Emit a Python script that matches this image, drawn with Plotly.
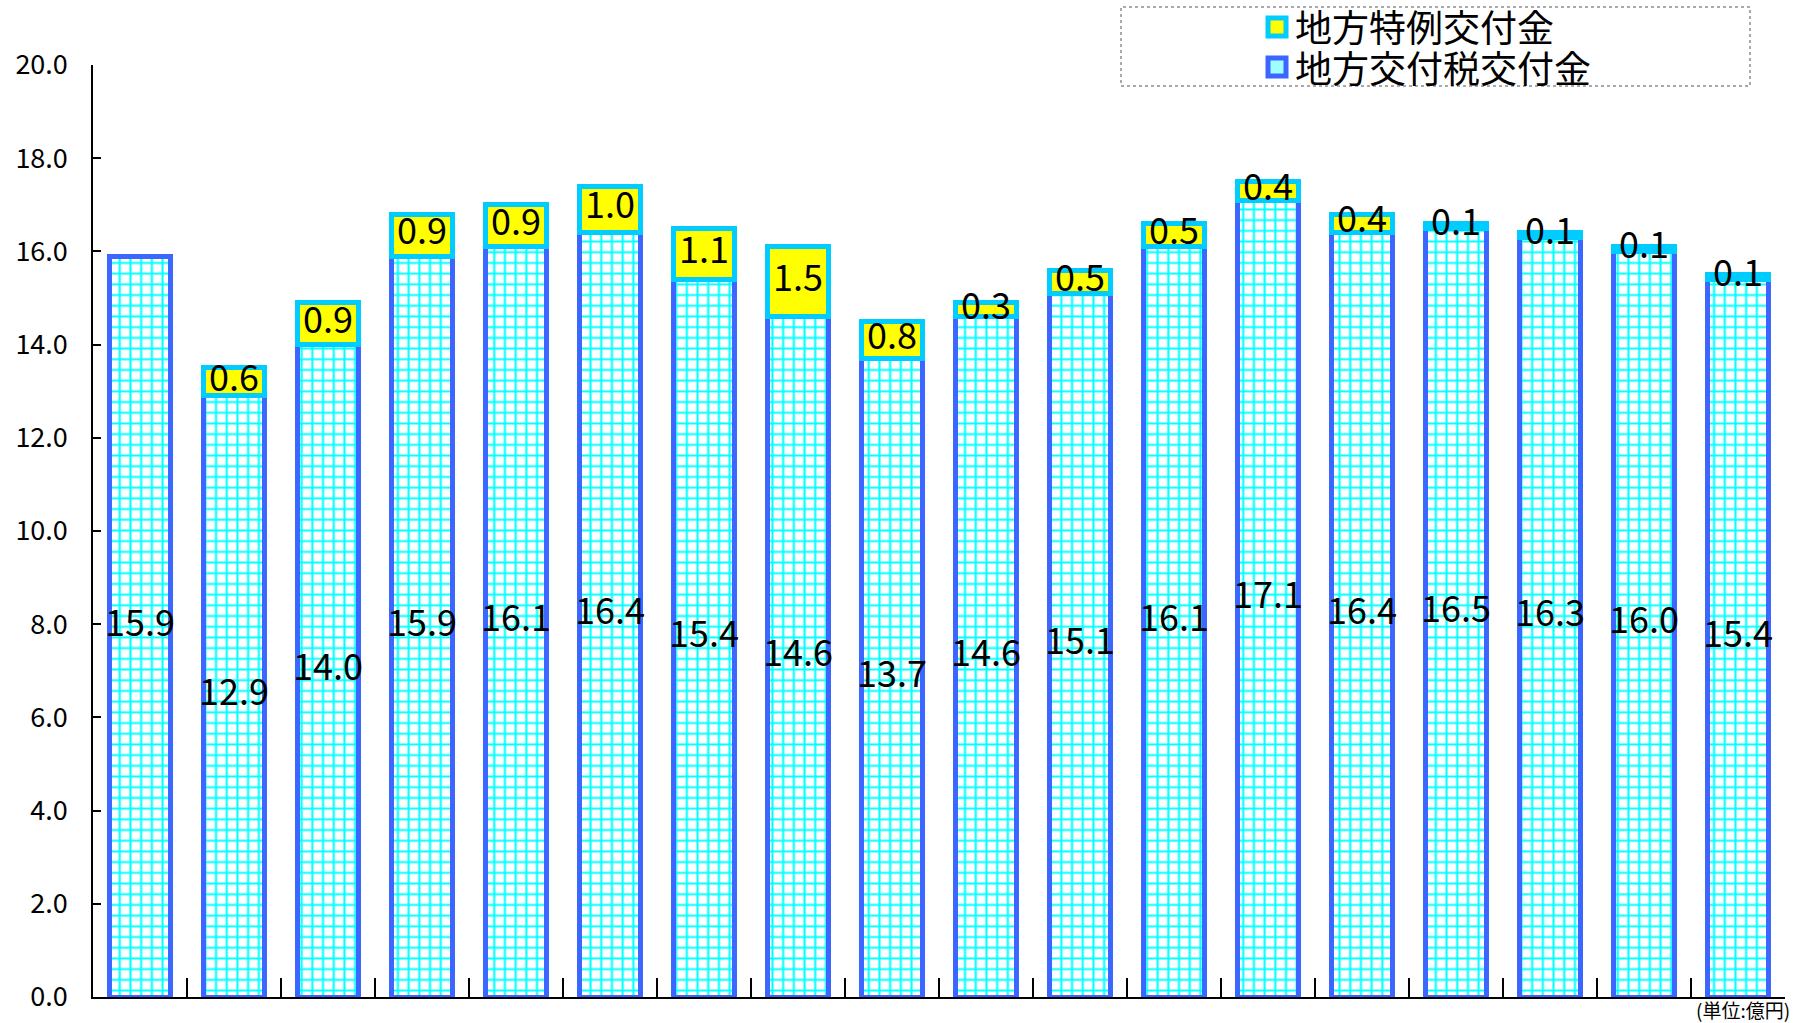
import plotly.graph_objects as go

categories = [str(i) for i in range(1, 19)]
kofuzei = [15.9, 12.9, 14.0, 15.9, 16.1, 16.4, 15.4, 14.6, 13.7, 14.6, 15.1, 16.1, 17.1, 16.4, 16.5, 16.3, 16.0, 15.4]
tokurei = [None, 0.6, 0.9, 0.9, 0.9, 1.0, 1.1, 1.5, 0.8, 0.3, 0.5, 0.5, 0.4, 0.4, 0.1, 0.1, 0.1, 0.1]
y_ticks = [0, 2, 4, 6, 8, 10, 12, 14, 16, 18, 20]
name_kofuzei = "地方交付税交付金"
name_tokurei = "地方特例交付金"
unit_label = "(単位:億円)"

FONT = "Noto Sans CJK JP"
W, H = 1793, 1023
ML, MR, MT, MB = 93, 8, 65, 26
PW, PH = W - ML - MR, H - MT - MB

BLUE = "#3B66FF"
CYAN = "#00FFFF"
CYAN_EDGE = "#00CCFF"
YELLOW = "#FFFF00"


def px_x(x):
    return (x - ML) / PW


def px_y(y):
    return (H - MB - y) / PH


fig = go.Figure()
fig.add_trace(go.Bar(
    x=categories, y=kofuzei, name=name_kofuzei, showlegend=False,
    marker=dict(color="white", line=dict(color=BLUE, width=5),
                pattern=dict(shape="+", fgcolor=CYAN, bgcolor="white",
                             size=10.7, solidity=0.35, fillmode="replace")),
    hoverinfo="skip",
))
fig.add_trace(go.Bar(
    x=categories, y=tokurei, name=name_tokurei, showlegend=False,
    marker=dict(color=YELLOW, line=dict(color=CYAN_EDGE, width=5)),
    hoverinfo="skip",
))
fig.add_trace(go.Scatter(
    x=categories, y=[v / 2 for v in kofuzei], mode="text",
    text=[f"{v:.1f}" for v in kofuzei], textposition="middle center",
    textfont=dict(family=FONT, size=36, color="black"),
    showlegend=False, hoverinfo="skip",
))
tk_x = [c for c, t in zip(categories, tokurei) if t is not None]
tk_y = [b + t / 2 for b, t in zip(kofuzei, tokurei) if t is not None]
tk_t = [f"{t:.1f}" for t in tokurei if t is not None]
fig.add_trace(go.Scatter(
    x=tk_x, y=tk_y, mode="text", text=tk_t, textposition="middle center",
    textfont=dict(family=FONT, size=36, color="black"),
    showlegend=False, hoverinfo="skip",
))

# custom legend (box, swatches, labels)
shapes = [
    dict(type="rect", xref="paper", yref="paper",
         x0=px_x(1121), x1=px_x(1750), y0=px_y(86), y1=px_y(7),
         line=dict(color="#555555", width=1, dash="dot"), layer="above"),
    dict(type="rect", xref="paper", yref="paper",
         x0=px_x(1268), x1=px_x(1286), y0=px_y(36), y1=px_y(18),
         fillcolor=YELLOW, line=dict(color=CYAN_EDGE, width=5)),
    dict(type="rect", xref="paper", yref="paper",
         x0=px_x(1268), x1=px_x(1286), y0=px_y(76), y1=px_y(58),
         fillcolor="#9FFFFF", line=dict(color=BLUE, width=5)),
]
annotations = [
    dict(text=name_tokurei, xref="paper", yref="paper", x=px_x(1293), y=px_y(26),
         xanchor="left", yanchor="middle", showarrow=False, height=38,
         font=dict(family=FONT, size=37, color="black")),
    dict(text=name_kofuzei, xref="paper", yref="paper", x=px_x(1293), y=px_y(67),
         xanchor="left", yanchor="middle", showarrow=False, height=38,
         font=dict(family=FONT, size=37, color="black")),
    dict(text=unit_label, xref="paper", yref="paper",
         x=px_x(1792), y=px_y(1009), xanchor="right", yanchor="middle",
         showarrow=False, font=dict(family=FONT, size=19, color="black")),
]

fig.update_layout(
    width=W, height=H, autosize=False,
    margin=dict(l=ML, r=MR, t=MT, b=MB, autoexpand=False),
    paper_bgcolor="white", plot_bgcolor="white",
    barmode="stack", bargap=0.36,
    font=dict(family=FONT, color="black"),
    showlegend=False,
    shapes=shapes,
    annotations=annotations,
)
fig.update_xaxes(
    type="category", range=[-0.5, len(categories) - 0.5],
    showticklabels=False, showline=True, linecolor="black", linewidth=1.5,
    ticks="inside", tickson="boundaries", ticklen=19, tickcolor="black", tickwidth=1.5,
    showgrid=False, zeroline=False,
)
fig.update_yaxes(
    range=[0, 20], tickvals=y_ticks, ticktext=[f"{v:.1f}" for v in y_ticks],
    showline=True, linecolor="black", linewidth=1.5,
    ticks="inside", ticklen=8, tickcolor="black", tickwidth=1.5,
    showgrid=False, zeroline=False,
    tickfont=dict(family=FONT, size=27, color="black"), ticklabelstandoff=18,
)

fig.write_html("out.html")
